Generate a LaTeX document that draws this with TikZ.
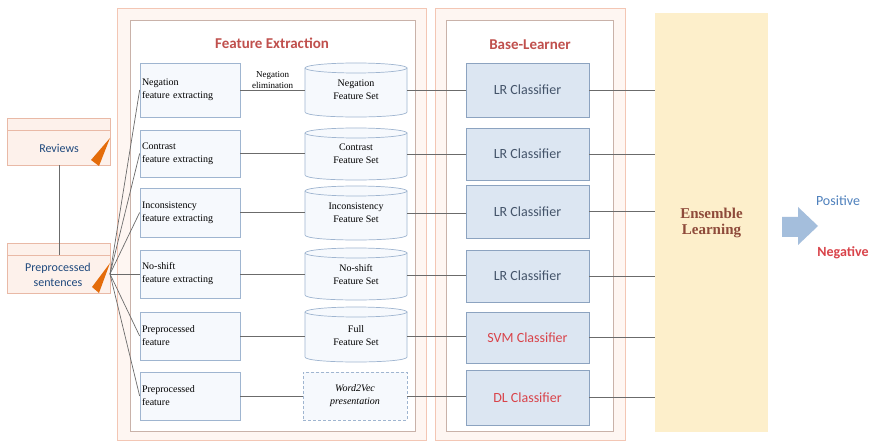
\documentclass[tikz,border=0pt]{standalone}
\usepackage{fontspec}
\setmainfont{Liberation Serif}
\newfontfamily\calib{Carlito}
\usetikzlibrary{calc}
\definecolor{frameout}{HTML}{F3C6B4}
\definecolor{framefill}{HTML}{FEF6F2}
\definecolor{framein}{HTML}{C9B2A9}
\definecolor{boxline}{HTML}{9FB5D0}
\definecolor{boxfill}{HTML}{F6F9FD}
\definecolor{clsfill}{HTML}{DCE6F2}
\definecolor{clsline}{HTML}{8CA3C0}
\definecolor{titlered}{HTML}{C0504D}
\definecolor{lrtext}{HTML}{44546A}
\definecolor{redtext}{HTML}{D9434A}
\definecolor{ensfill}{HTML}{FDEFCB}
\definecolor{enstext}{HTML}{8E4A3A}
\definecolor{wire}{HTML}{6B6B6B}
\definecolor{revfill}{HTML}{FDF1EB}
\definecolor{revline}{HTML}{E9B9A6}
\definecolor{orangetri}{HTML}{E46C0A}
\definecolor{navy}{HTML}{1F497D}
\definecolor{arrowblue}{HTML}{A4BEDC}
\definecolor{posblue}{HTML}{4F81BD}
\begin{document}
\begin{tikzpicture}[x=1pt,y=-1pt,
  fbox/.style={draw=boxline,fill=boxfill,line width=0.7pt,minimum width=100pt,
     text width=96pt,align=left,inner sep=2pt,font=\fontsize{10}{13}\selectfont},
  cyltext/.style={inner sep=0pt,minimum width=102pt,align=center,
     font=\fontsize{10}{13}\selectfont},
  cls/.style={draw=clsline,fill=clsfill,line width=0.7pt,minimum width=123pt,
     font=\calib\fontsize{14}{16}\selectfont,text=lrtext},
  wireline/.style={draw=wire,line width=0.8pt},
  title/.style={font=\calib\bfseries\fontsize{15}{17}\selectfont,text=titlered}
]
\useasboundingbox (0,0) rectangle (875,443);
\fill[white] (0,0) rectangle (875,443);

% frames
\draw[frameout,fill=framefill,line width=0.8pt] (117,8) rectangle (426,440);
\draw[framein,fill=white,line width=0.6pt] (130,20) rectangle (415,431);
\draw[frameout,fill=framefill,line width=0.8pt] (435,8) rectangle (625,440);
\draw[framein,fill=white,line width=0.6pt] (446,20) rectangle (613,431);
\node[title] (fetitle) at (272,43) {Feature Extraction};
\node[title] (bltitle) at (530,45) {Base-Learner};

% left boxes
\node[fbox,minimum height=54pt] (f1) at (190,90) {Negation\\feature extracting};
\node[fbox,minimum height=47pt] (f2) at (190,153.5) {Contrast\\feature extracting};
\node[fbox,minimum height=49pt] (f3) at (190,212.5) {Inconsistency\\feature extracting};
\node[fbox,minimum height=48pt] (f4) at (190,274) {No-shift\\feature extracting};
\node[fbox,minimum height=48pt] (f5) at (190,336) {Preprocessed\\feature};
\node[fbox,minimum height=48pt] (f6) at (190,396) {Preprocessed\\feature};

% cylinders
\foreach \ya/\yb in {63/117,128/180,186/240,248/300,307/362}{
  \draw[boxline,fill=boxfill,line width=0.7pt]
    (305,\ya+5) -- (305,\yb-5) .. controls (305,\yb+1.67) and (407,\yb+1.67) .. (407,\yb-5) -- (407,\ya+5);
  \draw[boxline,fill=boxfill,line width=0.7pt] (356,\ya+5) ellipse [x radius=51pt, y radius=5pt];
}
\node[cyltext,minimum height=44pt] (c1) at (356,90) {Negation\\Feature Set};
\node[cyltext,minimum height=42pt] (c2) at (356,154) {Contrast\\Feature Set};
\node[cyltext,minimum height=44pt] (c3) at (356,213) {Inconsistency\\Feature Set};
\node[cyltext,minimum height=42pt] (c4) at (356,275) {No-shift\\Feature Set};
\node[cyltext,minimum height=45pt] (c5) at (356,336) {Full\\Feature Set};
\node[cyltext,draw=boxline,densely dashed,fill=boxfill,line width=0.7pt,minimum width=104pt,
  minimum height=48pt,font=\itshape\fontsize{10}{13}\selectfont] (c6) at (355,396) {Word2Vec\\presentation};

% classifiers
\node[cls,minimum height=54pt] (l1) at (527.5,90) {LR Classifier};
\node[cls,minimum height=52pt] (l2) at (527.5,154) {LR Classifier};
\node[cls,minimum height=53pt] (l3) at (527.5,211.5) {LR Classifier};
\node[cls,minimum height=52pt] (l4) at (527.5,276) {LR Classifier};
\node[cls,minimum height=51pt,text=redtext] (l5) at (527.5,337.5) {SVM Classifier};
\node[cls,minimum height=55pt,text=redtext] (l6) at (527.5,397.5) {DL Classifier};

% ensemble
\node[fill=ensfill,minimum width=113pt,minimum height=419pt,align=center,text=enstext,
  font=\bfseries\fontsize{15}{16}\selectfont] (ens) at (711.5,222.5) {Ensemble\\Learning};

% connections box -> set
\draw[wireline] (f1.east) -- (f1.east -| c1.west) node[midway,above=0.5pt,font=\fontsize{9}{11}\selectfont,align=center,text=black,inner sep=1pt] (neglab) {Negation\\elimination};
\foreach \i in {2,...,6}{
  \draw[wireline] (f\i.east) -- (f\i.east -| c\i.west);
}
% set -> classifier
\foreach \i in {1,...,6}{
  \draw[wireline] (c\i.east) -- (c\i.east -| l\i.west);
}
% classifier -> ensemble
\foreach \i in {1,...,6}{
  \draw[wireline] (l\i.east) -- (l\i.east -| ens.west);
}

% left input boxes
\node[draw=revline,fill=revfill,line width=0.7pt,minimum width=103pt,minimum height=47pt] (rev) at (58.5,141.5) {};
\draw[revline,line width=0.7pt] (7,130) -- (110,130);
\node[font=\calib\fontsize{12}{14}\selectfont,text=navy] (revtxt) at (59,148) {Reviews};
\fill[orangetri] (91,160) -- (110,138) -- (99,166) -- cycle;

\node[draw=revline,fill=revfill,line width=0.7pt,minimum width=103pt,minimum height=50pt] (pre) at (58.5,268) {};
\draw[revline,line width=0.7pt] (7,255) -- (110,255);
\node[font=\calib\fontsize{12}{15}\selectfont,text=navy,align=center] (pretxt) at (58,275) {Preprocessed\\sentences};
\fill[orangetri] (92,287) -- (110,263) -- (99,293) -- cycle;

\coordinate (pretop) at (59,255);
\draw[wireline,line width=0.7pt] (rev.south -| pretop) -- (pretop);

% fan
\coordinate (fan) at (110,274);
\foreach \i in {1,...,6}{
  \draw[wireline,line width=0.7pt] (fan) -- (f\i.west);
}

% output arrow
\fill[arrowblue] (782,217) -- (798,217) -- (798,207) -- (818,226) -- (798,245) -- (798,237) -- (782,237) -- cycle;
\node[font=\calib\fontsize{14}{16}\selectfont,text=posblue] (pos) at (838,201) {Positive};
\node[font=\calib\bfseries\fontsize{14}{16}\selectfont,text=redtext] (neg) at (843,253) {Negative};
\end{tikzpicture}
\end{document}
